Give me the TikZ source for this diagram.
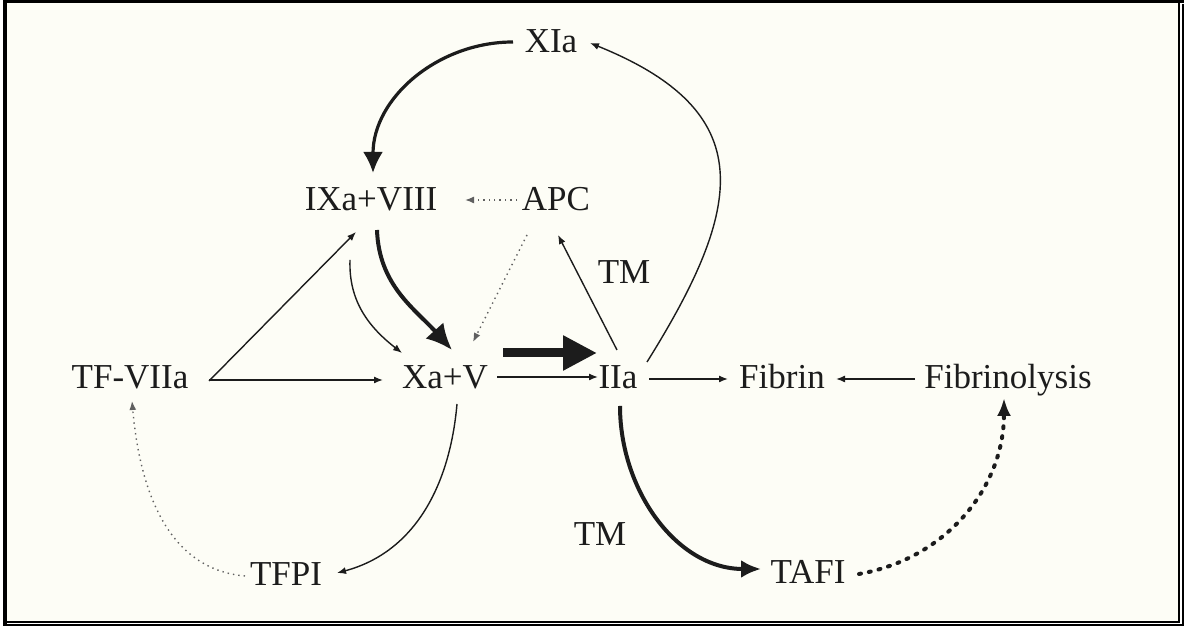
\documentclass[tikz,border=0pt]{standalone}
\usepackage{fontspec}
\setmainfont{Liberation Serif}
\usetikzlibrary{arrows.meta,positioning,calc}
\definecolor{paper}{RGB}{253,253,246}
\definecolor{ink}{RGB}{28,28,28}

\begin{document}
\begin{tikzpicture}[
  x=0.5pt, y=0.5pt,
  factor/.style={font=\fontsize{17.5}{20}\selectfont, text=ink,
                 text height=11.5pt, text depth=0pt, inner sep=3pt},
  arr/.style={-{Latex[length=4.5pt,width=3.5pt]}, line width=0.7pt, draw=ink},
  inhib/.style={arr, draw=ink!70, dotted},
  heavy/.style={draw=ink, line width=#1},
  bolddots/.style={-{Latex[length=9pt,width=7pt]}, draw=ink, line width=2pt,
                   line cap=round, dash pattern=on 1pt off 4pt}
]
  \useasboundingbox (0,0) rectangle (1184,630);
  % paper and frame
  \fill[white] (0,0) rectangle (1184,630);
  \fill[paper] (7,9) rectangle (1178,627);
  \draw[line width=2pt] (5.3,4.5) -- (5.3,630);
  \draw[line width=1.5pt] (3.3,628.5) -- (1184,628.5);
  \draw[line width=1pt] (1179.3,630) -- (1179.3,7.3);
  \draw[line width=1pt] (1183,626) -- (1183,4.5);
  \draw[line width=1pt] (3.3,8.3) -- (1180.3,8.3);
  \draw[line width=1pt] (3.3,5) -- (1184,5);

  % factors
  \node[factor] (xia)   at (551,589)  {XIa};
  \node[factor] (ix)    at (371,431)  {IXa+VIII};
  \node[factor] (apc)   at (556,431)  {APC};
  \node[factor] (tf)    at (130,253)  {TF-VIIa};
  \node[factor] (xa)    at (445,253)  {Xa+V};
  \node[factor] (iia)   at (618,253)  {IIa};
  \node[factor] (fib)   at (782,253)  {Fibrin};
  \node[factor] (lysis) at (1008,253) {Fibrinolysis};
  \node[factor] (tfpi)  at (286,56)   {TFPI};
  \node[factor] (tafi)  at (808,58)   {TAFI};
  \node[factor] (tmup)  at (624,358)  {TM};
  \node[factor] (tmlow) at (600,96)   {TM};

  % intrinsic loop
  \draw[heavy=1.6pt, -{Latex[length=10.5pt,width=10pt]}]
    ($(xia)+(-38,-1)$) to[out=180,in=90] ($(ix)+(2,26)$);
  \draw[inhib] ($(apc)+(-39,-1)$) -- ($(ix)+(94,-1)$);
  \draw[arr] ($(tf)+(79,-4)$) -- ($(ix)+(-15,-33)$);
  \draw[arr] ($(tf)+(79,-3)$) -- ($(xa)+(-62,-3)$);
  \draw[arr] ($(ix)+(-21,-61)$) to[out=-92,in=142] ($(xa)+(-43,24)$);
  \draw[heavy=2pt, -{Latex[length=13pt,width=12pt]}]
    ($(ix)+(6,-31)$) to[out=-88,in=132] ($(xa)+(7,27)$);
  \draw[inhib] ($(apc)+(-29,-36)$) -- ($(xa)+(28,35)$);
  \draw[arr] ($(iia)+(-1,27)$) -- ($(apc)+(2,-36)$);

  % thrombin
  \draw[heavy=4.5pt, -{Triangle[length=17pt,width=16.5pt]}]
    ($(xa)+(58,24)$) -- ($(iia)+(-21,24)$);
  \draw[arr] ($(xa)+(52,0)$) -- ($(iia)+(-20,0)$);
  \draw[arr] ($(iia)+(31,-2)$) -- ($(fib)+(-54,-2)$);
  \draw[arr] ($(lysis)+(-93,-2)$) -- ($(fib)+(54,-2)$);
  \draw[arr] ($(iia)+(29,15)$) to[out=58,in=-22,looseness=1.45] ($(xia)+(39,-2)$);

  % inhibitors
  \draw[arr] ($(xa)+(12,-27)$) to[out=-95,in=15] ($(tfpi)+(51,1)$);
  \draw[inhib] ($(tfpi)+(-41,-2)$) to[out=175,in=-85] ($(tf)+(2,-24)$);
  \draw[heavy=2pt, -{Latex[length=10pt,width=9pt]}]
    ($(iia)+(2,-29)$) to[out=-90,in=180] ($(tafi)+(-47,3)$);
  \draw[bolddots] ($(tafi)+(51,-2)$) to[out=10,in=-90] ($(lysis)+(-4,-21)$);
\end{tikzpicture}
\end{document}
